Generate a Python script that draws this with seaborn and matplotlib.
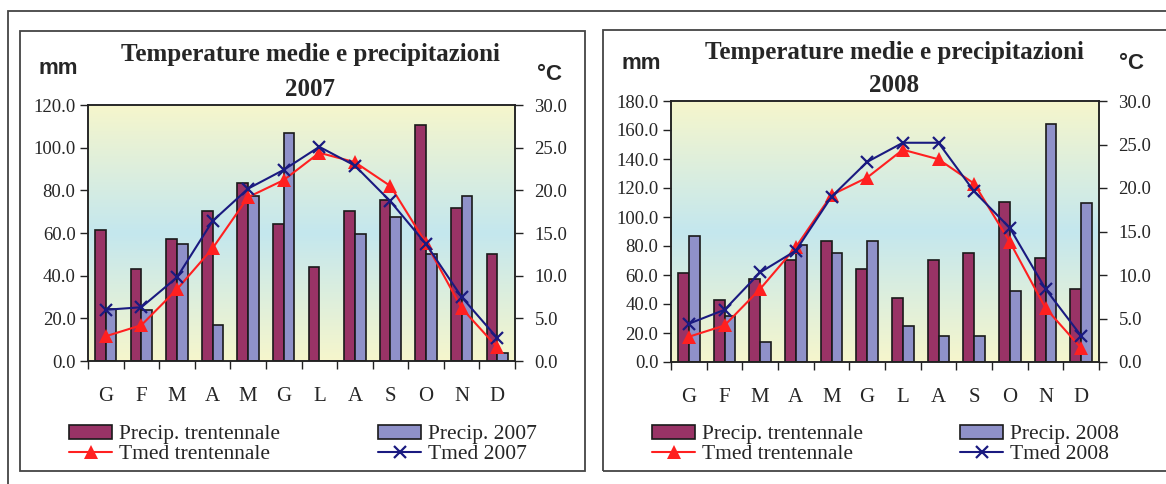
import numpy as np
import pandas as pd
import matplotlib
matplotlib.use("Agg")
import matplotlib.pyplot as plt
import seaborn as sns
from matplotlib.patches import Rectangle, Patch
from matplotlib.lines import Line2D
from matplotlib.colors import LinearSegmentedColormap

# ---------------- data ----------------
months = ["G", "F", "M", "A", "M", "G", "L", "A", "S", "O", "N", "D"]
precip_trent = [61.5, 43.0, 57.2, 70.5, 83.5, 64.0, 44.2, 70.5, 75.3, 110.5, 71.8, 50.3]
precip_2007 = [24.2, 23.9, 54.8, 16.9, 77.3, 106.7, 0.0, 59.7, 67.3, 50.3, 77.4, 3.7]
precip_2008 = [86.8, 32.0, 13.6, 81.0, 75.3, 83.4, 24.9, 18.2, 18.2, 49.1, 164.2, 109.4]
tmed_trent = [2.9, 4.2, 8.4, 13.2, 19.2, 21.2, 24.4, 23.3, 20.5, 13.8, 6.2, 1.6]
tmed_2007 = [6.0, 6.3, 9.8, 16.4, 20.2, 22.4, 25.1, 22.9, 18.7, 13.7, 7.5, 2.7]
tmed_2008 = [4.4, 6.0, 10.3, 12.8, 19.0, 23.0, 25.2, 25.2, 19.6, 15.4, 8.4, 3.0]

W, H = 1166, 484
C_TR = "#993366"
C_YR = "#8f91c9"
C_RED = "#ff2020"
C_NAVY = "#1a1a80"
SERIF = "Liberation Serif"
SANS = "Liberation Sans"

sns.set_theme(style="white")
plt.rcParams["font.family"] = [SERIF, "DejaVu Serif"]

fig = plt.figure(figsize=(W / 100, H / 100), dpi=100)


def fx(x):
    return x / W


def fy(y):
    return 1 - y / H


bg_cmap = LinearSegmentedColormap.from_list(
    "bg", ["#f6f6cc", "#c4e7ee", "#f6f6cc"])


def draw_chart(rect, year, precip_year, tmed_year, ymax, ystep, title_y, mm_pos, c_pos, leg_x):
    x0, y0, x1, y1 = rect
    ax = fig.add_axes([fx(x0), fy(y1), fx(x1) - fx(x0), fy(y0) - fy(y1)])
    # gradient background
    grad = np.linspace(0, 1, 256).reshape(-1, 1)
    ax.imshow(grad, aspect="auto", cmap=bg_cmap, extent=[0, 1, 0, 1],
              transform=ax.transAxes, zorder=0, interpolation="bilinear")

    n = len(months)
    df = pd.DataFrame({
        "idx": list(range(n)) * 2,
        "mm": list(precip_trent) + list(precip_year),
        "serie": ["Precip. trentennale"] * n + [f"Precip. {year}"] * n,
    })
    sns.barplot(data=df, x="idx", y="mm", hue="serie",
                hue_order=["Precip. trentennale", f"Precip. {year}"],
                palette=[C_TR, C_YR], width=0.6, gap=0, dodge=True,
                edgecolor="#1a1a1a", linewidth=1.2, saturation=1,
                legend=False, ax=ax, zorder=2)

    ax2 = ax.twinx()
    dft = pd.DataFrame({
        "idx": list(range(n)) * 2,
        "t": list(tmed_trent) + list(tmed_year),
        "serie": ["Tmed trentennale"] * n + [f"Tmed {year}"] * n,
    })
    sns.lineplot(data=dft[dft.serie == "Tmed trentennale"], x="idx", y="t",
                 color=C_RED, marker="^", markersize=10, markeredgewidth=0,
                 markeredgecolor=C_RED,
                 linewidth=1.5, ax=ax2, legend=False)
    sns.lineplot(data=dft[dft.serie == f"Tmed {year}"], x="idx", y="t",
                 color=C_NAVY, marker="x", markersize=9, markeredgewidth=1.6,
                 markeredgecolor=C_NAVY,
                 linewidth=1.5, ax=ax2, legend=False)

    ax.set_xlim(-0.5, n - 0.5)
    ax2.set_xlim(-0.5, n - 0.5)
    ax.set_ylim(0, ymax)
    ax2.set_ylim(0, 30)
    yt = np.arange(0, ymax + 0.1, ystep)
    ax.set_yticks(yt)
    ax.set_yticklabels([f"{v:.1f}" for v in yt], fontsize=13.5)
    tt = np.arange(0, 30.1, 5)
    ax2.set_yticks(tt)
    ax2.set_yticklabels([f"{v:.1f}" for v in tt], fontsize=13.5)
    ax.set_xticks(np.arange(-0.5, n, 1.0))
    ax.set_xticklabels([])
    ax.set_xticks(np.arange(n), minor=True)
    ax.set_xticklabels(months, minor=True, fontsize=15)
    ax.tick_params(axis="x", which="major", direction="out", length=6,
                   width=1.0, color="#222222", bottom=True)
    ax.tick_params(axis="x", which="minor", length=0, pad=19)
    ax.tick_params(axis="y", direction="out", length=6, width=1.0,
                   color="#222222", left=True, pad=3)
    ax2.tick_params(axis="y", direction="out", length=6, width=1.0,
                    color="#222222", right=True, pad=8)
    ax.set_xlabel("")
    ax.set_ylabel("")
    ax2.set_xlabel("")
    ax2.set_ylabel("")
    for a in (ax, ax2):
        for s in a.spines.values():
            s.set_visible(True)
            s.set_color("#222222")
            s.set_linewidth(1.1)
    ax2.patch.set_visible(False)

    cx = (x0 + x1) / 2 + 9
    fig.text(fx(cx), fy(title_y), "Temperature medie e precipitazioni",
             ha="center", va="center", fontsize=18, fontweight="bold",
             family=SERIF)
    fig.text(fx(cx), fy(title_y + 34), str(year), ha="center", va="center",
             fontsize=18, fontweight="bold", family=SERIF)
    fig.text(fx(mm_pos[0]), fy(mm_pos[1]), "mm", ha="center", va="center",
             fontsize=16, fontweight="bold", family=SANS)
    fig.text(fx(c_pos[0]), fy(c_pos[1]), "°C", ha="center", va="center",
             fontsize=16, fontweight="bold", family=[SANS, "DejaVu Sans"])

    # legends
    h_tr = Patch(facecolor=C_TR, edgecolor="#1a1a1a", linewidth=1.2)
    h_yr = Patch(facecolor=C_YR, edgecolor="#1a1a1a", linewidth=1.2)
    l_tr = Line2D([], [], color=C_RED, marker="^", markersize=10,
                  markeredgewidth=0, linewidth=1.5)
    l_yr = Line2D([], [], color=C_NAVY, marker="x", markersize=9,
                  markeredgewidth=1.6, linewidth=1.5)
    common = dict(frameon=False, fontsize=15.5, handlelength=2.0,
                  handleheight=0.6, handletextpad=0.3, labelspacing=0.0,
                  borderpad=0, borderaxespad=0, loc="upper left")
    fig.legend([h_tr, l_tr], ["Precip. trentennale", "Tmed trentennale"],
               bbox_to_anchor=(fx(leg_x[0]), fy(425)), **common)
    fig.legend([h_yr, l_yr], [f"Precip. {year}", f"Tmed {year}"],
               bbox_to_anchor=(fx(leg_x[1]), fy(425)), **common)
    return ax, ax2


draw_chart((88, 105, 515, 361), 2007, precip_2007, tmed_2007, 120, 20,
           55, (58, 68), (550, 74), (69, 378))
draw_chart((671, 101, 1099, 362), 2008, precip_2008, tmed_2008, 180, 20,
           52, (641, 63), (1132, 63), (652, 960))

# frames
frame_kw = dict(fill=False, edgecolor="#444444", linewidth=1.3,
                transform=fig.transFigure, clip_on=False)
fig.add_artist(Rectangle((fx(8), fy(H + 10)), fx(W + 20), fy(11) - fy(H + 10), **frame_kw))
fig.add_artist(Rectangle((fx(20), fy(471)), fx(585) - fx(20), fy(31) - fy(471), **frame_kw))
fig.add_artist(Rectangle((fx(603), fy(471)), fx(W + 20) - fx(603), fy(30) - fy(471), **frame_kw))

fig.savefig("out.png", dpi=100)
